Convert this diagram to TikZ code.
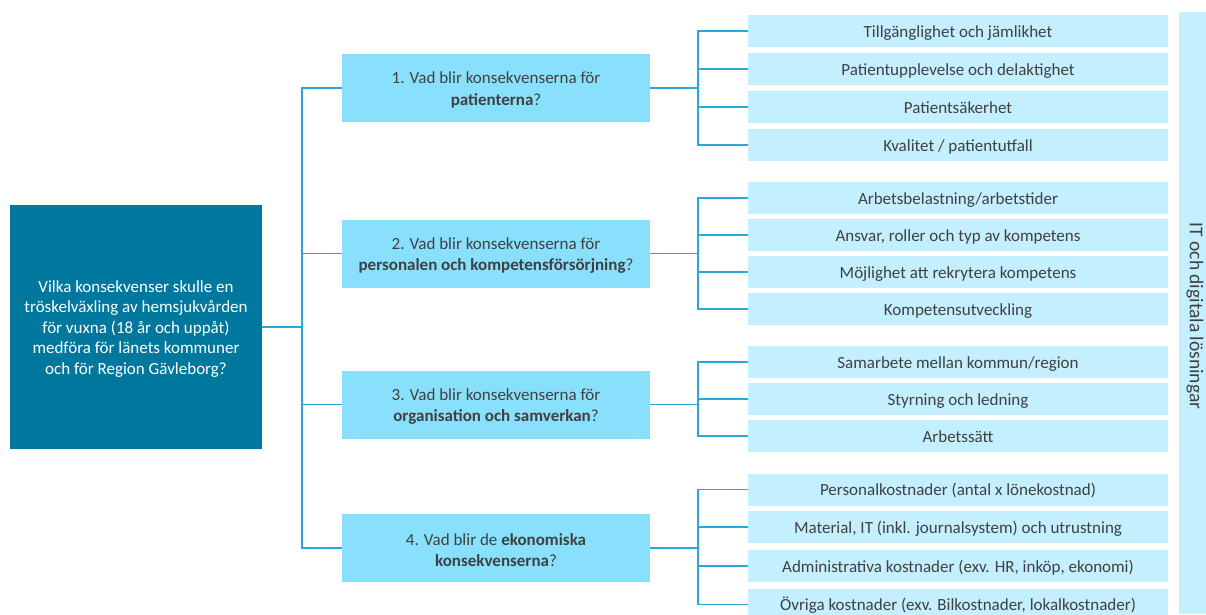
\documentclass[tikz,border=0pt]{standalone}
\usepackage{fontspec}
\setmainfont{Carlito}
\begin{document}
\begin{tikzpicture}[x=1pt,y=-1pt,
  every node/.style={font=\fontsize{17}{20.5}\selectfont},
  mainbox/.style={rectangle,fill=maincol,minimum width=252pt,minimum height=244pt,inner sep=0pt},
  maintext/.style={text=white,align=center,inner sep=0pt,yshift=-2pt},
  qbox/.style={rectangle,fill=qcol,minimum width=308pt,minimum height=68pt,inner sep=0pt},
  qtext/.style={text=txtcol,align=center,inner sep=0pt,yshift=-2pt,font=\fontsize{17}{21.5}\selectfont},
  leaf/.style={rectangle,fill=leafcol,text=txtcol,minimum width=420pt,minimum height=32pt,inner sep=0pt,text height=14pt,text depth=2pt},
  conn/.style={draw=linecol,line width=1.5pt}
]
\definecolor{maincol}{HTML}{00789E}
\definecolor{qcol}{HTML}{89E0FC}
\definecolor{leafcol}{HTML}{C4EFFE}
\definecolor{barcol}{HTML}{C4EFFE}
\definecolor{linecol}{HTML}{2AA8DC}
\definecolor{txtcol}{HTML}{404040}
\clip (0,0) rectangle (1206,614);
\fill[white] (0,0) rectangle (1206,614);

% vertical bar
\node[rectangle,fill=barcol,minimum width=27pt,minimum height=602pt,inner sep=0pt,anchor=north west] (bar) at (1179,12) {};
\node[rotate=-90,text=txtcol,font=\fontsize{19.5}{22}\selectfont] (bartxt) at (1195,316) {IT och digitala lösningar};

% main box
\node[mainbox] (main) at (136,327) {};
\node[maintext] (maintxt) at (main.center) {Vilka konsekvenser skulle en\\tröskelväxling av hemsjukvården\\för vuxna (18 år och uppåt)\\medföra för länets kommuner\\och för Region Gävleborg?};

% questions
\node[qbox] (q1) at (496,88) {};
\node[qtext] (q1t) at (q1.center) {1. Vad blir konsekvenserna för\\\textbf{patienterna}?};
\node[qbox] (q2) at (496,253.5) {};
\node[qtext] (q2t) at (q2.center) {2. Vad blir konsekvenserna för\\\textbf{personalen och kompetensförsörjning}?};
\node[qbox] (q3) at (496,404.5) {};
\node[qtext] (q3t) at (q3.center) {3. Vad blir konsekvenserna för\\\textbf{organisation och samverkan}?};
\node[qbox] (q4) at (496,548) {};
\node[qtext] (q4t) at (q4.center) {4. Vad blir de \textbf{ekonomiska}\\\textbf{konsekvenserna}?};

% leaves
\node[leaf] (l11) at (958,31) {Tillgänglighet och jämlikhet};
\node[leaf] (l12) at (958,69) {Patientupplevelse och delaktighet};
\node[leaf] (l13) at (958,107) {Patientsäkerhet};
\node[leaf] (l14) at (958,145) {Kvalitet / patientutfall};
\node[leaf] (l21) at (958,198) {Arbetsbelastning/arbetstider};
\node[leaf] (l22) at (958,235) {Ansvar, roller och typ av kompetens};
\node[leaf] (l23) at (958,272) {Möjlighet att rekrytera kompetens};
\node[leaf] (l24) at (958,309) {Kompetensutveckling};
\node[leaf] (l31) at (958,362) {Samarbete mellan kommun/region};
\node[leaf] (l32) at (958,399) {Styrning och ledning};
\node[leaf] (l33) at (958,436) {Arbetssätt};
\node[leaf] (l41) at (958,489.5) {Personalkostnader (antal x lönekostnad)};
\node[leaf] (l42) at (958,527) {Material, IT (inkl. journalsystem) och utrustning};
\node[leaf] (l43) at (958,566) {Administrativa kostnader (exv. HR, inköp, ekonomi)};
\node[leaf] (l44) at (958,604.5) {Övriga kostnader (exv. Bilkostnader, lokalkostnader)};

% junction coordinates
\coordinate (jl) at (302,0);
\coordinate (jr) at (698,0);

% left tree
\draw[conn] (main.east) -- (main.east -| jl);
\draw[conn] (q1.west) -- (q1.west -| jl) -- (q4.west -| jl) -- (q4.west);
\draw[conn] (q2.west) -- (q2.west -| jl);
\draw[conn] (q3.west) -- (q3.west -| jl);

% right trees
\draw[conn] (q1.east) -- (q1.east -| jr);
\draw[conn] (l11.west) -- (l11.west -| jr) -- (l14.west -| jr) -- (l14.west);
\draw[conn] (l12.west) -- (l12.west -| jr);
\draw[conn] (l13.west) -- (l13.west -| jr);

\draw[conn] (q2.east) -- (q2.east -| jr);
\draw[conn] (l21.west) -- (l21.west -| jr) -- (l24.west -| jr) -- (l24.west);
\draw[conn] (l22.west) -- (l22.west -| jr);
\draw[conn] (l23.west) -- (l23.west -| jr);

\draw[conn] (q3.east) -- (q3.east -| jr);
\draw[conn] (l31.west) -- (l31.west -| jr) -- (l33.west -| jr) -- (l33.west);
\draw[conn] (l32.west) -- (l32.west -| jr);

\draw[conn] (q4.east) -- (q4.east -| jr);
\draw[conn] (l41.west) -- (l41.west -| jr) -- (l44.west -| jr) -- (l44.west);
\draw[conn] (l42.west) -- (l42.west -| jr);
\draw[conn] (l43.west) -- (l43.west -| jr);
\end{tikzpicture}
\end{document}
